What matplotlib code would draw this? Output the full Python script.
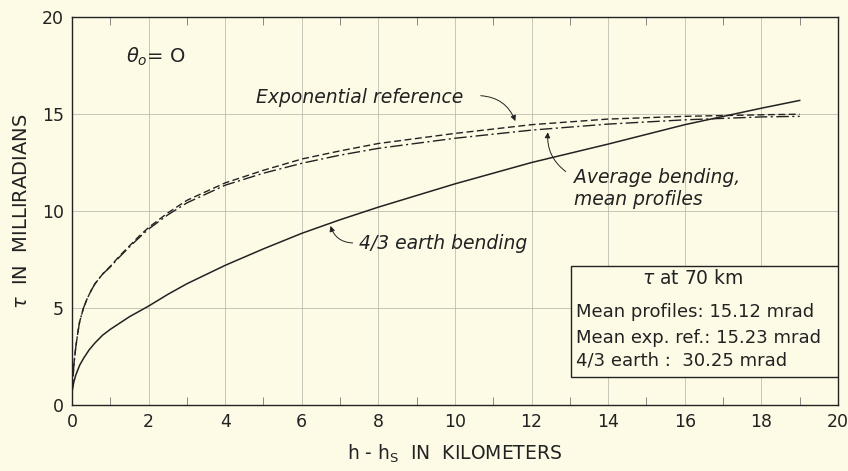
import matplotlib
matplotlib.use("Agg")
import matplotlib.pyplot as plt
from matplotlib.patches import Rectangle
from matplotlib.ticker import MultipleLocator

# values (h - hs in km, tau in mrad)
h_earth = [0, 0.05, 0.1, 0.2, 0.3, 0.45, 0.6, 0.8, 1, 1.5, 2, 2.5, 3, 4, 5, 6, 7, 8,
           10, 12, 14, 16, 18, 19]
tau_earth = [0.7, 1.2, 1.55, 2.05, 2.4, 2.85, 3.2, 3.6, 3.9, 4.55, 5.1, 5.7, 6.25, 7.2,
             8.05, 8.85, 9.55, 10.2, 11.4, 12.5, 13.45, 14.45, 15.3, 15.7]

h_exp = [0, 0.02, 0.05, 0.1, 0.15, 0.2, 0.3, 0.4, 0.5, 0.6, 0.8, 1, 1.25, 1.5, 1.75, 2,
         2.5, 3, 4, 5, 6, 7, 8, 10, 12, 14, 16, 18, 19]
tau_exp = [0.4, 1.2, 2.1, 3.0, 3.7, 4.3, 5.0, 5.5, 5.9, 6.25, 6.75, 7.15, 7.7, 8.2, 8.7,
           9.15, 9.9, 10.55, 11.45, 12.1, 12.68, 13.1, 13.48, 14.0, 14.45, 14.74, 14.88,
           14.96, 14.99]

h_avg = [0, 0.02, 0.05, 0.1, 0.15, 0.2, 0.3, 0.4, 0.5, 0.6, 0.8, 1, 1.25, 1.5, 1.75, 2,
         2.5, 3, 4, 5, 6, 7, 8, 10, 12, 14, 16, 18, 19]
tau_avg = [0.4, 1.2, 2.1, 3.0, 3.7, 4.3, 5.0, 5.5, 5.9, 6.25, 6.75, 7.12, 7.65, 8.15, 8.62,
           9.07, 9.8, 10.42, 11.33, 11.95, 12.46, 12.88, 13.23, 13.75, 14.17, 14.48, 14.7,
           14.85, 14.88]

box_lines = ["Mean profiles: 15.12 mrad", "Mean exp. ref.: 15.23 mrad", "4/3 earth :  30.25 mrad"]

bg = "#fdfbe6"
ink = "#222222"
plt.rcParams['font.family'] = ['DejaVu Sans']

fig = plt.figure(figsize=(8.48, 4.71), dpi=100, facecolor=bg)
ax = fig.add_axes([0.0849, 0.1401, 0.9033, 0.8238], facecolor=bg)

ax.plot(h_earth, tau_earth, color=ink, lw=1.1)
ax.plot(h_exp, tau_exp, color=ink, lw=1.0, dashes=(5, 2.5))
ax.plot(h_avg, tau_avg, color=ink, lw=1.0, dashes=(9, 2.5, 1.5, 2.5))

ax.set_xlim(0, 20)
ax.set_ylim(0, 20)
ax.xaxis.set_major_locator(MultipleLocator(2))
ax.xaxis.set_minor_locator(MultipleLocator(1))
ax.yaxis.set_major_locator(MultipleLocator(5))
ax.grid(True, which="major", color="#b2b2a8", lw=0.5)
ax.tick_params(which="major", length=0, pad=6, labelsize=12.5, colors=ink)
ax.tick_params(axis="x", which="minor", direction="in", top=True, bottom=True,
               length=6, width=0.6, color="#777777")
for lab in ax.get_xticklabels() + ax.get_yticklabels():
    lab.set_family(['Liberation Sans Narrow', 'DejaVu Sans'])
for s in ax.spines.values():
    s.set_color(ink)
    s.set_linewidth(1.0)

ax.set_xlabel("h - h$_\\mathregular{S}$  IN  KILOMETERS", fontsize=13.5, labelpad=8, color=ink)
ax.set_ylabel("$\\tau$  IN  MILLIRADIANS", fontsize=14, labelpad=8, color=ink)

ax.text(1.4, 17.95, "$\\theta_o$= O", fontsize=14, va="center", ha="left", color=ink)

ax.text(4.8, 15.86, "Exponential reference", fontsize=13.5, style="italic",
        va="center", ha="left", color=ink)
ax.annotate("", xy=(11.6, 14.5), xytext=(10.6, 15.95),
            arrowprops=dict(arrowstyle="-|>", connectionstyle="arc3,rad=-0.35",
                            lw=0.7, color=ink, mutation_scale=8))

ax.text(13.1, 11.75, "Average bending,", fontsize=13.5, style="italic",
        va="center", ha="left", color=ink)
ax.text(13.1, 10.57, "mean profiles", fontsize=13.5, style="italic",
        va="center", ha="left", color=ink)
ax.annotate("", xy=(12.43, 14.2), xytext=(12.95, 11.95),
            arrowprops=dict(arrowstyle="-|>", connectionstyle="arc3,rad=-0.3",
                            lw=0.7, color=ink, mutation_scale=8))

ax.text(7.5, 8.33, "4/3 earth bending", fontsize=13.5, style="italic",
        va="center", ha="left", color=ink)
ax.annotate("", xy=(6.73, 9.37), xytext=(7.4, 8.35),
            arrowprops=dict(arrowstyle="-|>", connectionstyle="arc3,rad=-0.4",
                            lw=0.7, color=ink, mutation_scale=8))

ax.add_patch(Rectangle((13.04, 1.46), 6.96, 5.71, facecolor=bg, edgecolor=ink,
                       lw=1.0, zorder=3))
ax.text(16.2, 6.53, "$\\tau$ at 70 km", fontsize=13.5, ha="center", va="center",
        color=ink, zorder=4)
for yy, line in zip([4.81, 3.44, 2.32], box_lines):
    ax.text(13.17, yy, line, fontsize=13, ha="left", va="center", color=ink, zorder=4)

fig.savefig("out.png", dpi=100, facecolor=bg)
